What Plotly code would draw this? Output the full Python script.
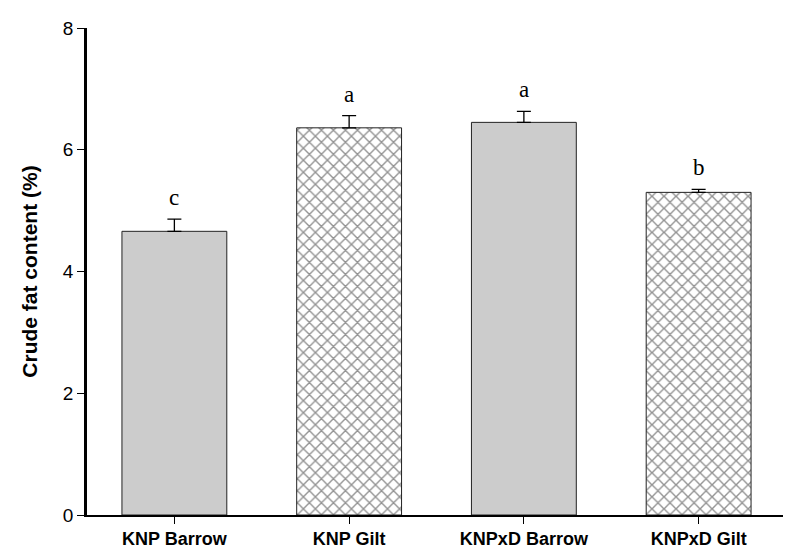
import plotly.graph_objects as go

groups = ["KNP Barrow", "KNP Gilt", "KNPxD Barrow", "KNPxD Gilt"]
fat_mean = [4.66, 6.36, 6.45, 5.30]
fat_se = [0.20, 0.20, 0.18, 0.05]
letters = ["c", "a", "a", "b"]
hatched = [False, True, False, True]

fig = go.Figure()

# plain grey bars and crosshatched bars as two traces
for want_hatch in (False, True):
    xs = [g for g, h in zip(groups, hatched) if h == want_hatch]
    ys = [m for m, h in zip(fat_mean, hatched) if h == want_hatch]
    es = [e for e, h in zip(fat_se, hatched) if h == want_hatch]
    if want_hatch:
        marker = dict(color="white", line=dict(color="#222", width=1),
                      pattern=dict(shape="x", size=8.5, solidity=0.3,
                                   fgcolor="#262626", bgcolor="white"))
    else:
        marker = dict(color="#cccccc", line=dict(color="#222", width=1))
    fig.add_trace(go.Bar(
        x=xs, y=ys, width=0.6, marker=marker,
        error_y=dict(type="data", array=es, arrayminus=[0]*len(es),
                     symmetric=False, color="black", thickness=1.3, width=7),
        showlegend=False,
    ))

# significance letters above error bars
for g, m, e, l in zip(groups, fat_mean, fat_se, letters):
    fig.add_annotation(x=g, y=m + e, text=l, showarrow=False,
                       yanchor="bottom", yshift=7,
                       font=dict(family="Liberation Serif, Times New Roman, serif",
                                 size=23, color="black"))

fig.update_layout(
    width=791, height=555,
    margin=dict(l=78.5, r=12.5, t=19.5, b=48),
    plot_bgcolor="white", paper_bgcolor="white",
    font=dict(family="Liberation Sans, Arial, sans-serif", color="black"),
    bargap=0.4,
)
fig.update_xaxes(
    categoryorder="array", categoryarray=groups, range=[-0.5, 3.5],
    showline=True, linecolor="black", linewidth=1.5,
    ticks="outside", ticklen=7, tickcolor="black", tickwidth=1,
    tickfont=dict(size=18),
    tickprefix="<b>", ticksuffix="</b>",
    automargin=False,
)
fig.update_yaxes(
    range=[0, 8], tickvals=[0, 2, 4, 6, 8],
    showline=True, linecolor="black", linewidth=2.5,
    ticks="outside", ticklen=7, tickcolor="black", tickwidth=1,
    showgrid=False, zeroline=False,
    tickfont=dict(size=19),
    title=dict(text="<b>Crude fat content (%)</b>", font=dict(size=21), standoff=20),
    automargin=False,
)

fig.write_html("out.html")
